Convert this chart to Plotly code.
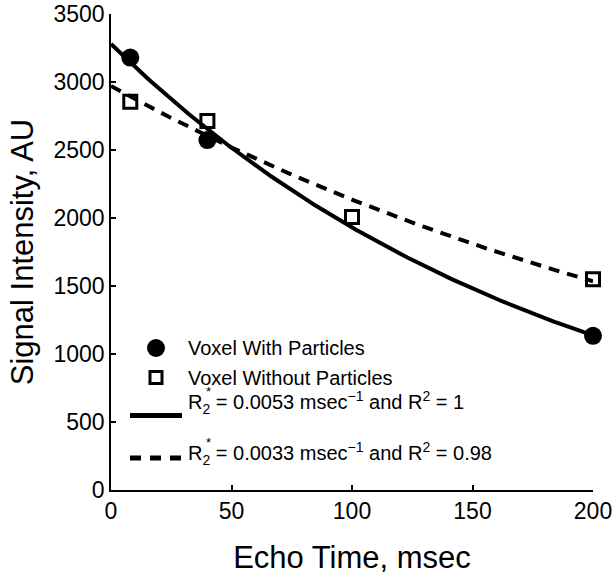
import numpy as np
import plotly.graph_objects as go

# Measured signal (echo time in msec, intensity in arbitrary units)
te_with = [8, 40, 200]
sig_with = [3180, 2573, 1134]
te_without = [8, 40, 100, 200]
sig_without = [2855, 2713, 2007, 1549]

# Mono-exponential fits S(t) = S0 * exp(-R2* t)
s0_with, r2_with = 3280, 0.0053
s0_without, r2_without = 2970, 0.0033
fit_labels = [
    "R<sub>2</sub> = 0.0053 msec<sup>\u22121</sup> and R<sup>2</sup> = 1",
    "R<sub>2</sub> = 0.0033 msec<sup>\u22121</sup> and R<sup>2</sup> = 0.98",
]
marker_labels = ["Voxel With Particles", "Voxel Without Particles"]

x_ticks = [0, 50, 100, 150, 200]
y_ticks = [0, 500, 1000, 1500, 2000, 2500, 3000, 3500]

t_fit = np.linspace(0, 200, 201)
fit_with = s0_with * np.exp(-r2_with * t_fit)
fit_without = s0_without * np.exp(-r2_without * t_fit)

FONT = "Liberation Sans, Arial, Helvetica, sans-serif"

fig = go.Figure()
fig.add_trace(go.Scatter(x=t_fit, y=fit_with, mode="lines",
                         line=dict(color="black", width=4), cliponaxis=False))
fig.add_trace(go.Scatter(x=t_fit, y=fit_without, mode="lines",
                         line=dict(color="black", width=4, dash="11px,8px"),
                         cliponaxis=False))
fig.add_trace(go.Scatter(x=te_with, y=sig_with, mode="markers",
                         marker=dict(symbol="circle", size=18, color="black"),
                         cliponaxis=False))
fig.add_trace(go.Scatter(x=te_without, y=sig_without, mode="markers",
                         marker=dict(symbol="square-open", size=13, color="black",
                                     line=dict(width=3, color="black")),
                         cliponaxis=False))

# Hand-built legend inside the axes (pixel-sized keys anchored in paper space)
L, T, PW, PH = 111, 14, 482, 476


def px(x):
    return (x - L) / PW


def py(y):
    return (T + PH - y) / PH


shapes = [
    dict(type="circle", xref="paper", yref="paper", xsizemode="pixel", ysizemode="pixel",
         xanchor=px(156), yanchor=py(348), x0=-9, x1=9, y0=-9, y1=9,
         fillcolor="black", line=dict(width=0)),
    dict(type="rect", xref="paper", yref="paper", xsizemode="pixel", ysizemode="pixel",
         xanchor=px(156), yanchor=py(377.5), x0=-6, x1=6, y0=-6, y1=6,
         fillcolor="rgba(0,0,0,0)", line=dict(width=3, color="black")),
    dict(type="line", xref="paper", yref="paper", x0=px(130), x1=px(182),
         y0=py(415.5), y1=py(415.5), line=dict(width=5, color="black")),
    dict(type="line", xref="paper", yref="paper", x0=px(130), x1=px(183),
         y0=py(458), y1=py(458), line=dict(width=5, color="black", dash="11px,9px")),
]

annotations = []
for lbl, yc in zip(marker_labels, [348, 378]):
    annotations.append(dict(text=lbl, xref="paper", yref="paper", x=px(186), y=py(yc),
                            xanchor="left", yanchor="middle", showarrow=False,
                            font=dict(size=20, color="black", family=FONT)))
for lbl, yc in zip(fit_labels, [402, 453]):
    annotations.append(dict(text=lbl, xref="paper", yref="paper", x=px(186), y=py(yc),
                            xanchor="left", yanchor="middle", showarrow=False,
                            font=dict(size=20, color="black", family=FONT)))
for yc in [391, 442]:
    annotations.append(dict(text="*", xref="paper", yref="paper", x=px(208), y=py(yc),
                            xanchor="center", yanchor="middle", showarrow=False,
                            font=dict(size=13, color="black", family=FONT)))

axis_common = dict(showline=True, linecolor="black", linewidth=1.5, ticks="inside",
                   ticklen=5, tickwidth=1.5, tickcolor="black", showgrid=False,
                   zeroline=False, mirror=False,
                   tickfont=dict(size=23, color="black", family=FONT))

fig.update_layout(
    width=615, height=575,
    margin=dict(l=L, r=615 - L - PW, t=T, b=575 - T - PH, autoexpand=False),
    paper_bgcolor="white", plot_bgcolor="white",
    showlegend=False,
    shapes=shapes, annotations=annotations,
    xaxis=dict(range=[0, 200], tickvals=x_ticks, **axis_common,
               title=dict(text="Echo Time, msec", standoff=24,
                          font=dict(size=31, color="black", family=FONT))),
    yaxis=dict(range=[0, 3500], tickvals=y_ticks, **axis_common,
               title=dict(text="Signal Intensity, AU", standoff=11,
                          font=dict(size=31, color="black", family=FONT))),
)

fig.write_html("out.html")
